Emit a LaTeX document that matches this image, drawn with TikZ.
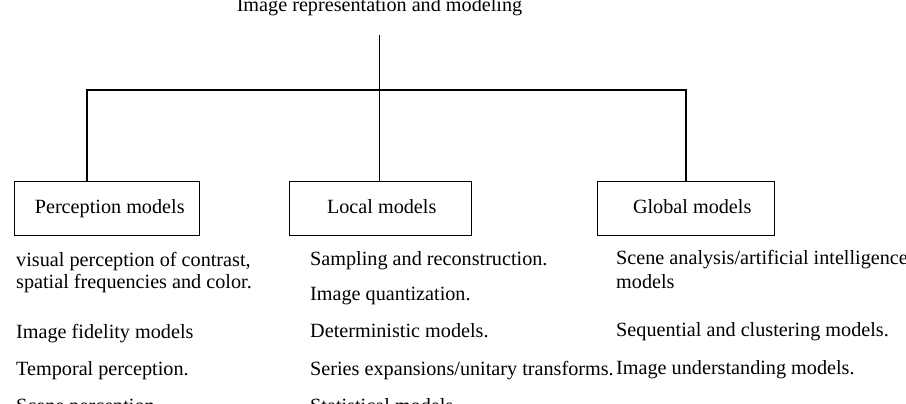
\documentclass[tikz,border=0pt]{standalone}
\usepackage{fontspec}
\setmainfont{Liberation Serif}
\begin{document}
\begin{tikzpicture}[x=1pt,y=-1pt,
  txt/.style={inner sep=0pt,anchor=base west,font=\fontsize{20.2}{24}\selectfont},
  modelbox/.style={draw,line width=1.4pt,inner sep=0pt,text height=14pt,text depth=4.4pt,minimum height=54pt,anchor=north west,font=\fontsize{20.2}{24}\selectfont},
  link/.style={line width=1.3pt}]
\useasboundingbox (0,0) rectangle (906,404);
\clip (0,0) rectangle (906,404);
% title
\node[inner sep=0pt,anchor=base,font=\fontsize{20.2}{24}\selectfont] (title) at (379.5,12) {Image representation and modeling};
% boxes
\node[modelbox,minimum width=185pt] (perc) at (14,181) {\hspace*{5pt}Perception models};
\node[modelbox,minimum width=182pt] (loc) at (289,181) {\hspace*{2pt}Local models};
\node[modelbox,minimum width=177pt] (glob) at (597,181) {\hspace*{12pt}Global models};
% connectors
\coordinate (top) at (379.5,35);
\coordinate (hl) at (87,90);
\coordinate (hr) at (686,90);
\draw[link] (top) -- (loc.north -| top);
\draw[link] (perc.north -| hl) -- (hl) -- (hr) -- (glob.north -| hr);
% left column
\node[txt] (l1) at (16,266) {visual perception of contrast,};
\node[txt] (l2) at (16,288.3) {spatial frequencies and color.};
\node[txt] (l3) at (16,338) {Image fidelity models};
\node[txt] (l4) at (16,375) {Temporal perception.};
\node[txt] (l5) at (16,412) {Scene perception};
% middle column
\node[txt] (m1) at (310,265) {Sampling and reconstruction.};
\node[txt] (m2) at (310,300) {Image quantization.};
\node[txt] (m3) at (310,337.3) {Deterministic models.};
\node[txt] (m4) at (310,375) {Series expansions/unitary transforms.};
\node[txt] (m5) at (310,412) {Statistical models};
% right column
\node[txt] (r1) at (616,264.5) {Scene analysis/artificial intelligence};
\node[txt] (r2) at (616,288.3) {models};
\node[txt] (r3) at (616,336.7) {Sequential and clustering models.};
\node[txt] (r4) at (616,374.5) {Image understanding models.};
\end{tikzpicture}
\end{document}
